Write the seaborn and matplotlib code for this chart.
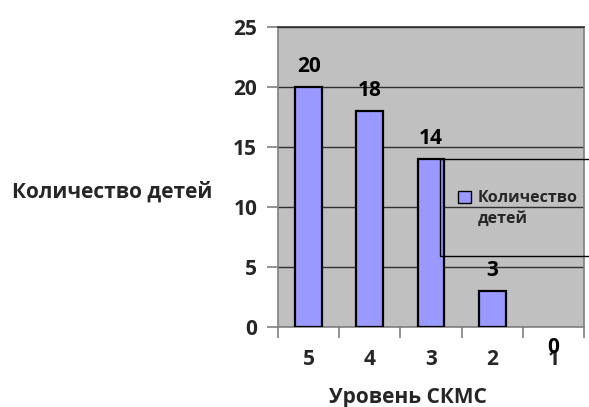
import matplotlib
matplotlib.use("Agg")
import matplotlib.pyplot as plt
from matplotlib.patches import Rectangle
from matplotlib.ticker import FixedLocator
from matplotlib.legend_handler import HandlerPatch
import seaborn as sns
import pandas as pd

# Data
levels = ["5", "4", "3", "2", "1"]
children = [20, 18, 14, 3, 0]
series_name = "Количество детей"
legend_label = "Количество\nдетей"
x_title = "Уровень СКМС"
y_ticks = [0, 5, 10, 15, 20, 25]

sns.set_theme(style="white")
plt.rcParams["font.family"] = ["Open Sans", "DejaVu Sans"]
plt.rcParams["font.weight"] = "bold"

df = pd.DataFrame({"level": levels, "count": children})

W, H = 589, 407
fig = plt.figure(figsize=(W / 100, H / 100), dpi=100)
fig.patch.set_facecolor("white")
ax = fig.add_axes([278 / W, 1 - 327 / H, (584 - 278) / W, (327 - 27) / H])
ax.set_facecolor("#C0C0C0")

bar_color = "#9999FF"
sns.barplot(data=df, x="level", y="count", order=levels, color=bar_color,
            width=0.44, edgecolor="black", linewidth=1.6, saturation=1,
            ax=ax, zorder=3)

ax.set_xlim(-0.5, len(levels) - 0.5)
ax.set_ylim(0, 25)
ax.set_yticks(y_ticks)
ax.yaxis.grid(True, color="#303030", linewidth=1.0, zorder=1)
ax.set_axisbelow(True)
for b, v in zip(ax.patches, children):
    b.set_zorder(3)
    if v == 0:
        b.set_linewidth(0)

# Value labels above each bar (zero sits below the axis)
for i, v in enumerate(children):
    off = 14.5 if v > 0 else -15
    ax.annotate(str(v), (i, v), xytext=(0, off), textcoords="offset points",
                ha="center", va="center", fontsize=15, fontweight="bold",
                color="black", zorder=5, annotation_clip=False)

# Axes styling
for side in ["left", "bottom", "right"]:
    ax.spines[side].set_color("#808080")
    ax.spines[side].set_linewidth(1.2)
ax.spines["top"].set_color("#303030")
ax.spines["top"].set_linewidth(1.2)

ax.tick_params(axis="y", which="major", length=8, width=1.2, color="#808080",
               pad=7, labelsize=15, left=True)
ax.xaxis.set_minor_locator(FixedLocator([i - 0.5 for i in range(len(levels) + 1)]))
ax.tick_params(axis="x", which="minor", length=8, width=1.2, color="#808080",
               bottom=True)
ax.tick_params(axis="x", which="major", length=0, pad=16, labelsize=15)
for lab in ax.get_xticklabels() + ax.get_yticklabels():
    lab.set_fontweight("bold")
ax.set_xlabel("")
ax.set_ylabel("")

fig.text(408 / W, 1 - 397 / H, x_title, ha="center", va="center",
         fontsize=15, fontweight="bold")
fig.text(112 / W, 1 - 192 / H, series_name, ha="center", va="center",
         fontsize=15, fontweight="bold")

# Legend: transparent box whose right edge runs off the figure
fig.patches.append(Rectangle((440 / W, 1 - 256 / H), (620 - 440) / W, (256 - 159) / H,
                             transform=fig.transFigure, fill=False,
                             edgecolor="black", linewidth=1.0, zorder=6))


def first_line_box(legend, orig_handle, xdescent, ydescent, width, height, fontsize):
    # key square aligned with the first line of a two-line label
    return Rectangle((-xdescent, -ydescent + 9.0), width, height)


handle = Rectangle((0, 0), 1, 1, facecolor=bar_color, edgecolor="black", linewidth=1.0)
leg = fig.legend([handle], [legend_label], loc="upper left",
                 bbox_to_anchor=(458 / W, 1 - 190 / H), frameon=False,
                 handlelength=0.8, handleheight=0.8,
                 handletextpad=0.45, borderpad=0, borderaxespad=0,
                 handler_map={Rectangle: HandlerPatch(patch_func=first_line_box)},
                 prop={"weight": "bold", "size": 11.5})
for t in leg.get_texts():
    t.set_linespacing(1.45)

fig.savefig("out.png", dpi=100)
